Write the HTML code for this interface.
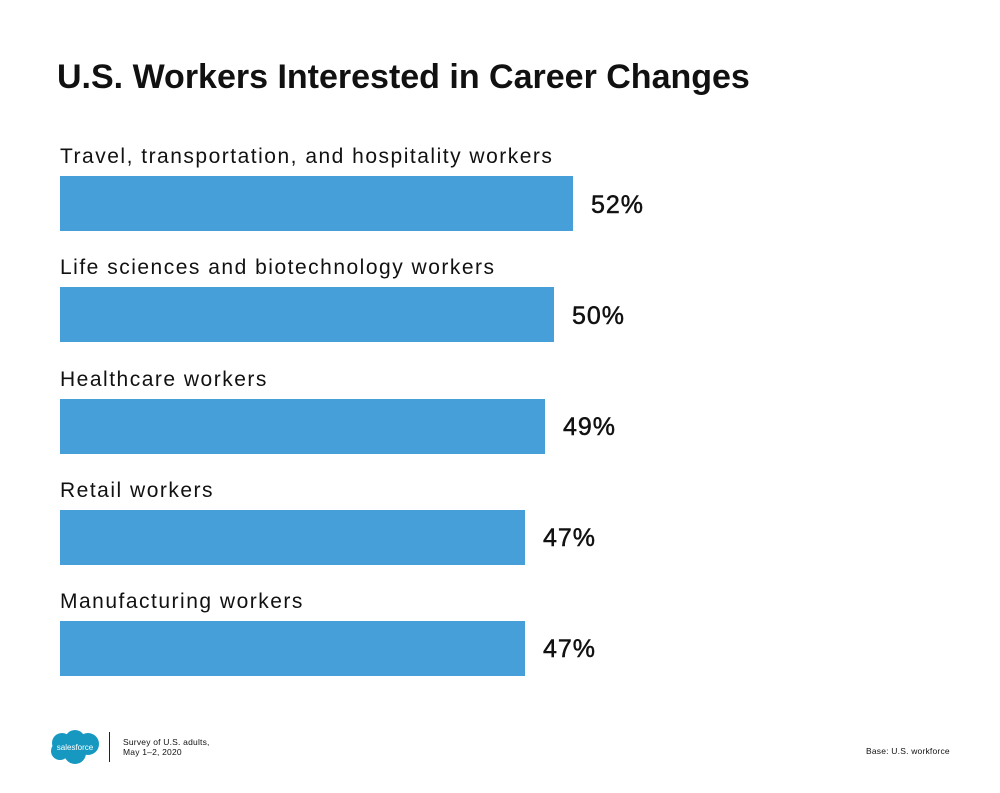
<!DOCTYPE html>
<html><head><style>
body{margin:0;width:1000px;height:793px;background:#fff;position:relative;font-family:"Liberation Sans",sans-serif;color:#111;overflow:hidden}
.t{position:absolute;left:57px;top:58px;font-size:34px;font-weight:bold;letter-spacing:0px}
.l{position:absolute;left:60px;font-size:21px;letter-spacing:1.5px;white-space:nowrap}
.b{position:absolute;left:60px;height:55px;background:#469fd8}
.p{position:absolute;font-size:25px;line-height:30px;letter-spacing:1px;-webkit-text-stroke:0.5px #111}
.s{position:absolute;font-size:8.5px;line-height:10px;letter-spacing:0.2px}
</style></head><body>
<div class="t">U.S. Workers Interested in Career Changes</div>

<div class="l" style="top:145px">Travel, transportation, and hospitality workers</div>
<div class="b" style="top:176px;width:513px"></div>
<div class="p" style="left:591px;top:190px">52%</div>

<div class="l" style="top:256px">Life sciences and biotechnology workers</div>
<div class="b" style="top:287px;width:494px"></div>
<div class="p" style="left:572px;top:301px">50%</div>

<div class="l" style="top:368px">Healthcare workers</div>
<div class="b" style="top:399px;width:485px"></div>
<div class="p" style="left:563px;top:412px">49%</div>

<div class="l" style="top:479px">Retail workers</div>
<div class="b" style="top:510px;width:465px"></div>
<div class="p" style="left:543px;top:523px">47%</div>

<div class="l" style="top:590px">Manufacturing workers</div>
<div class="b" style="top:621px;width:465px"></div>
<div class="p" style="left:543px;top:634px">47%</div>

<svg style="position:absolute;left:48px;top:729px" width="54" height="36" viewBox="0 0 54 36">
<g fill="#1798c1"><circle cx="14" cy="14" r="10"/><circle cx="27" cy="11" r="10"/><circle cx="40" cy="15" r="11"/><circle cx="27" cy="24" r="11"/><circle cx="12" cy="22" r="9"/></g>
<text x="27" y="21" font-size="8" fill="#fff" text-anchor="middle" font-family="Liberation Sans">salesforce</text></svg>
<div style="position:absolute;left:109px;top:732px;width:1px;height:30px;background:#222"></div>
<div class="s" style="left:123px;top:737px">Survey of U.S. adults,<br>May 1–2, 2020</div>
<div class="s" style="left:866px;top:746px">Base: U.S. workforce</div>
</body></html>
